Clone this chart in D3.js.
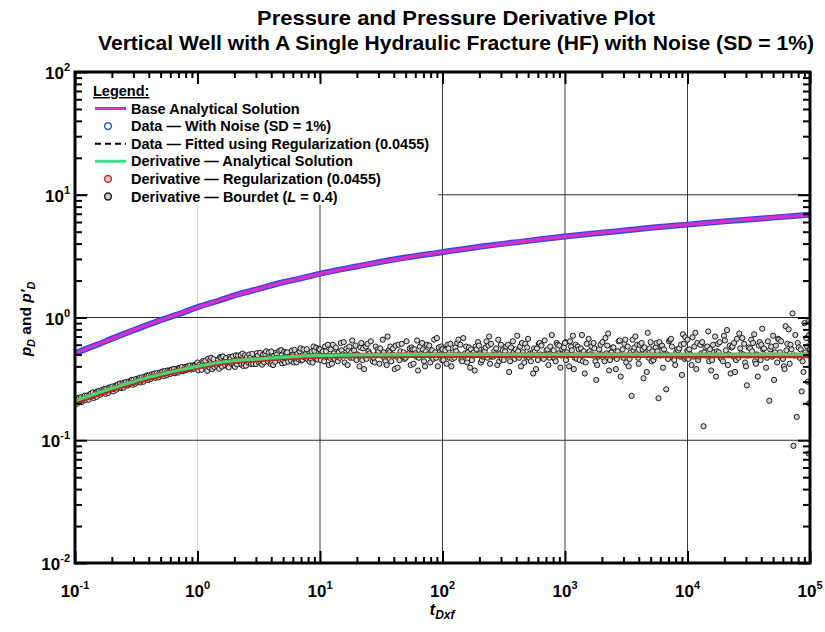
<!DOCTYPE html>
<html><head><meta charset="utf-8">
<script src="https://cdn.jsdelivr.net/npm/d3@7"></script>
<style>
body{margin:0;background:#fff}
text{font-family:"Liberation Sans",Arial,sans-serif;font-weight:bold;fill:#000}
</style>
</head><body><svg id="c" width="825" height="632"></svg>
<script>
// ---------- data ----------
const pressureT = [0.1,0.15,0.2,0.3,0.5,0.7,1,1.5,2,3,5,7,10,20,50,100,200,500,1e3,2e3,5e3,1e4,2e4,5e4,1e5];
const pressureBase = [.51,.60,.67,.79,.95,1.07,1.21,1.38,1.51,1.69,1.93,2.09,2.27,2.61,3.07,3.41,3.76,4.22,4.56,4.91,5.37,5.72,6.06,6.52,6.86];
const pressureNoisy = [.512,.598,.673,.787,.953,1.065,1.214,1.376,1.515,1.684,1.937,2.085,2.276,2.603,3.078,3.405,3.768,4.21,4.57,4.90,5.38,5.71,6.07,6.51,6.87];
const pressureFit = [.51,.60,.67,.79,.95,1.07,1.21,1.38,1.51,1.69,1.93,2.09,2.27,2.61,3.07,3.41,3.76,4.22,4.56,4.91,5.37,5.72,6.06,6.52,6.86];

const derivT = [0.1,0.15,0.2,0.3,0.5,0.7,1,1.5,2,3,5,7,10,20,50,100,1e3,1e4,1e5];
const derivAnalytical = [.21,.24,.265,.30,.345,.372,.40,.43,.445,.458,.476,.485,.49,.496,.499,.5,.5,.5,.5];
const derivRegularization = [.205,.236,.26,.295,.34,.368,.396,.425,.44,.453,.47,.48,.485,.49,.492,.493,.492,.491,.49];

const bourdetMantissa = [1.0,1.08,1.16,1.25,1.35,1.45,1.56,1.68,1.8,1.95,2.1,2.25,2.4,2.6,2.8,3.0,3.25,3.5,3.75,4.0,4.3,4.65,5.0,5.4,5.8,6.2,6.7,7.2,7.8,8.4,9.0,9.6];
const bourdetDecades = [-1,0,1,2,3,4];
const bourdetOffsets = [1,1.018,1.036,1.054];
const bourdetA = [
 [.205,.222,.214,.231,.240,.229,.251,.243,.262,.270,.262,.285,.276,.297,.288,.311,.300,.325,.314,.337,.326,.352,.338,.365,.350,.377,.362,.389,.373,.401,.384,.412],
 [.430,.375,.445,.392,.458,.401,.470,.408,.392,.482,.415,.495,.420,.430,.505,.418,.515,.432,.440,.528,.436,.535,.448,.520,.445,.545,.458,.452,.552,.462,.535,.455],
 [.55,.44,.60,.42,.57,.47,.63,.41,.52,.59,.40,.56,.46,.64,.43,.53,.66,.41,.58,.49,.39,.61,.47,.56,.42,.65,.51,.40,.59,.46,.68,.50],
 [.55,.42,.61,.47,.66,.44,.58,.39,.52,.63,.45,.57,.70,.48,.41,.60,.53,.36,.64,.49,.58,.43,.67,.51,.38,.62,.46,.55,.72,.44,.59,.50],
 [.62,.40,.71,.46,.56,.35,.67,.49,.31,.60,.44,.74,.52,.38,.65,.47,.58,.23,.70,.42,.55,.36,.63,.48,.22,.59,.26,.66,.45,.54,.34,.69],
 [.66,.41,.75,.48,.13,.58,.37,.70,.52,.44,.79,.35,.62,.47,.68,.40,.56,.73,.33,.60,.49,.21,.71,.43,.64,.38,.80,1.08,.155,.55,.90,.30]
];
const bourdetB = [
 [.216,.208,.226,.220,.225,.245,.238,.258,.249,.256,.278,.269,.290,.281,.304,.295,.318,.308,.331,.320,.344,.333,.357,.345,.370,.356,.383,.368,.396,.380,.406,.390],
 [.372,.440,.385,.452,.395,.455,.398,.468,.478,.404,.489,.412,.492,.500,.419,.512,.428,.506,.520,.433,.515,.446,.525,.437,.538,.450,.530,.548,.455,.527,.462,.556],
 [.45,.58,.41,.60,.48,.62,.43,.54,.65,.45,.57,.38,.61,.49,.58,.42,.52,.70,.44,.38,.60,.48,.64,.41,.55,.37,.62,.53,.43,.66,.40,.58],
 [.45,.60,.40,.57,.50,.68,.43,.55,.37,.59,.48,.64,.42,.53,.66,.46,.58,.44,.52,.71,.40,.61,.47,.35,.56,.50,.65,.41,.53,.62,.39,.57],
 [.45,.64,.38,.58,.72,.43,.53,.62,.41,.50,.68,.37,.57,.46,.33,.61,.40,.66,.51,.60,.32,.75,.44,.57,.63,.39,.50,.67,.41,.56,.73,.47],
 [.46,.69,.38,.60,.52,.77,.45,.33,.63,.71,.41,.57,.36,.74,.50,.28,.66,.44,.59,.81,.39,.55,.31,.67,.47,.85,.42,.09,.62,.25,.52,.078]
];
const bourdetC = [
 [.198,.224,.231,.214,.246,.226,.235,.262,.243,.274,.258,.290,.268,.279,.310,.289,.322,.300,.337,.316,.350,.325,.364,.338,.347,.381,.356,.395,.372,.407,.381,.418],
 [.412,.428,.368,.470,.420,.382,.482,.435,.465,.396,.442,.508,.405,.470,.452,.488,.413,.530,.465,.410,.500,.542,.428,.478,.492,.431,.560,.474,.486,.430,.568,.495],
 [.50,.53,.47,.51,.44,.54,.49,.58,.47,.50,.62,.48,.53,.44,.50,.56,.46,.54,.50,.59,.45,.52,.49,.57,.51,.47,.55,.60,.48,.52,.57,.45],
 [.50,.56,.46,.53,.60,.48,.52,.45,.58,.51,.55,.47,.61,.50,.44,.54,.49,.57,.46,.53,.62,.48,.51,.56,.45,.59,.50,.47,.54,.60,.49,.52],
 [.52,.58,.47,.55,.44,.61,.50,.56,.48,.63,.51,.45,.57,.53,.49,.66,.46,.54,.60,.50,.57,.47,.53,.62,.49,.55,.46,.58,.52,.48,.61,.54],
 [.55,.48,.62,.51,.57,.44,.60,.53,.47,.65,.50,.58,.45,.56,.61,.49,.53,.42,.63,.55,.47,.58,.52,.66,.46,.54,.60,.49,.57,.44,.68,.55]
];
const bourdetD = [
 [.220,.205,.213,.236,.221,.250,.256,.239,.268,.250,.283,.266,.295,.301,.283,.316,.296,.330,.309,.344,.322,.355,.333,.370,.375,.352,.388,.365,.399,.377,.412,.386],
 [.395,.408,.462,.380,.410,.476,.436,.398,.420,.492,.450,.402,.476,.418,.458,.432,.500,.454,.418,.488,.470,.424,.515,.470,.430,.505,.446,.500,.438,.580,.458,.510],
 [.53,.48,.55,.46,.52,.50,.56,.47,.54,.49,.45,.58,.51,.47,.55,.49,.44,.52,.56,.48,.53,.46,.51,.55,.48,.58,.44,.50,.54,.47,.52,.56],
 [.54,.47,.52,.62,.45,.51,.57,.49,.55,.43,.53,.59,.48,.56,.51,.45,.60,.50,.55,.47,.52,.57,.44,.53,.61,.48,.54,.58,.46,.51,.55,.63],
 [.49,.54,.60,.45,.53,.51,.58,.44,.55,.47,.59,.52,.48,.64,.55,.43,.52,.57,.47,.62,.51,.56,.45,.53,.58,.50,.64,.48,.55,.60,.46,.53],
 [.50,.58,.45,.63,.49,.55,.52,.61,.46,.54,.59,.48,.67,.51,.43,.57,.62,.50,.45,.56,.64,.48,.59,.52,.40,.61,.55,.72,.47,.36,.58,.65]
];
const bourdetEndT = 1e5;
const bourdetEnd = [.72,.20,.95];

const xTickExps = [-1,0,1,2,3,4,5];
const yTickExps = [-2,-1,0,1,2];
const titleLines = ["Pressure and Pressure Derivative Plot","Vertical Well with A Single Hydraulic Fracture (HF) with Noise (SD = 1%)"];
const legendItems = [
 {label:"Base Analytical Solution", kind:"line", color:"#d930b8"},
 {label:"Data \u2014 With Noise (SD = 1%)", kind:"circle", color:"#2f55d4", fill:"#fff"},
 {label:"Data \u2014 Fitted using Regularization (0.0455)", kind:"dash", color:"#000"},
 {label:"Derivative \u2014 Analytical Solution", kind:"line", color:"#3ddc8c"},
 {label:"Derivative \u2014 Regularization (0.0455)", kind:"circle", color:"#c8302a", fill:"#ccc"},
 {label:"Derivative \u2014 Bourdet (", italic:"L", tail:" = 0.4)", kind:"circle", color:"#222", fill:"#ccc"}
];

// ---------- chart ----------
const svg = d3.select("#c");
const L=75, R=810, T=72, B=563;
const x = d3.scaleLog().domain([0.1,1e5]).range([L,R]);
const y = d3.scaleLog().domain([0.01,100]).range([B,T]);

svg.append("defs").append("clipPath").attr("id","clip")
  .append("rect").attr("x",L).attr("y",T).attr("width",R-L).attr("height",B-T);

// grid
const grid = svg.append("g");
xTickExps.slice(1,-1).forEach(e=>{
  grid.append("line").attr("x1",x(10**e)).attr("x2",x(10**e)).attr("y1",T).attr("y2",B)
    .attr("stroke", e===0 ? "#d4d4d4" : "#3a3a3a").attr("stroke-width",1);
});
yTickExps.slice(1,-1).forEach(e=>{
  grid.append("line").attr("y1",y(10**e)).attr("y2",y(10**e)).attr("x1",L).attr("x2",R)
    .attr("stroke","#2a2a2a").attr("stroke-width",1);
});

// legend background
svg.append("rect").attr("x",88).attr("y",78).attr("width",350).attr("height",127).attr("fill","#fff");

const plot = svg.append("g").attr("clip-path","url(#clip)");
const line = d3.line().curve(d3.curveMonotoneX);

// Bourdet derivative points
const rows = [bourdetA,bourdetB,bourdetC,bourdetD];
const bourdet = [];
bourdetDecades.forEach((d,i)=>{
  bourdetMantissa.forEach((m,j)=>{
    rows.forEach((r,k)=>bourdet.push([m*bourdetOffsets[k]*10**d, r[i][j]]));
  });
});
bourdetEnd.forEach(v=>bourdet.push([bourdetEndT*0.985, v]));
plot.append("g").selectAll("circle").data(bourdet).join("circle")
  .attr("cx",d=>x(d[0])).attr("cy",d=>y(d[1])).attr("r",2.6)
  .attr("fill","#d4d4d4").attr("stroke","#1a1a1a").attr("stroke-width",1);

// regularization derivative (red band) and analytical derivative (green)
plot.append("path").attr("d",line(derivT.map((t,i)=>[x(t),y(derivRegularization[i])])))
  .attr("fill","none").attr("stroke","#b82a22").attr("stroke-width",5.5);
plot.append("path").attr("d",line(derivT.map((t,i)=>[x(t),y(derivAnalytical[i])])))
  .attr("fill","none").attr("stroke","#48d470").attr("stroke-width",3.2);

// pressure: noisy data (blue band), fitted dashed, base analytical
plot.append("path").attr("d",line(pressureT.map((t,i)=>[x(t),y(pressureNoisy[i])])))
  .attr("fill","none").attr("stroke","#3048e0").attr("stroke-width",6);
plot.append("path").attr("d",line(pressureT.map((t,i)=>[x(t),y(pressureFit[i])])))
  .attr("fill","none").attr("stroke","#000").attr("stroke-width",1.5).attr("stroke-dasharray","5,3");
plot.append("path").attr("d",line(pressureT.map((t,i)=>[x(t),y(pressureBase[i])])))
  .attr("fill","none").attr("stroke","#d630c8").attr("stroke-width",3.4);

// ticks (inner, all four sides)
const xMinor=[], yMinor=[];
xTickExps.slice(0,-1).forEach(e=>{for(let m=2;m<=9;m++) xMinor.push(m*10**e);});
yTickExps.slice(0,-1).forEach(e=>{for(let m=2;m<=9;m++) yMinor.push(m*10**e);});
const xMajor = xTickExps.map(e=>10**e), yMajor = yTickExps.map(e=>10**e);
function ticks(axisFn, scale, vals, len, tr){
  const g = svg.append("g").attr("transform",tr)
    .call(axisFn(scale).tickValues(vals).tickSize(-len).tickFormat(""));
  g.select(".domain").remove();
  g.selectAll("line").attr("stroke","#000").attr("stroke-width",2);
}
ticks(d3.axisBottom,x,xMinor,6,`translate(0,${B})`);
ticks(d3.axisBottom,x,xMajor,12,`translate(0,${B})`);
ticks(d3.axisTop,x,xMinor,6,`translate(0,${T})`);
ticks(d3.axisTop,x,xMajor,12,`translate(0,${T})`);
ticks(d3.axisLeft,y,yMinor,7,`translate(${L},0)`);
ticks(d3.axisLeft,y,yMajor,12,`translate(${L},0)`);
ticks(d3.axisRight,y,yMinor,7,`translate(${R},0)`);
ticks(d3.axisRight,y,yMajor,12,`translate(${R},0)`);

// frame
svg.append("rect").attr("x",L).attr("y",T).attr("width",R-L).attr("height",B-T)
  .attr("fill","none").attr("stroke","#000").attr("stroke-width",3);

// tick labels
function pow10(g, px, py, e, anchor){
  const t = g.append("text").attr("x",px).attr("y",py).attr("text-anchor",anchor).style("font-size","17px");
  t.append("tspan").text("10");
  t.append("tspan").attr("dy",-8).style("font-size","11px").text(e);
}
const lab = svg.append("g");
xTickExps.forEach(e=>pow10(lab, x(10**e), 597, e, "middle"));
yTickExps.forEach(e=>pow10(lab, 70, y(10**e)+7, e, "end"));

// titles (condensed face)
const titleWidths = [398, 716];
titleLines.forEach((s,i)=>{
  svg.append("text").attr("x",456).attr("y",25+i*25).attr("text-anchor","middle")
    .attr("textLength",titleWidths[i]).attr("lengthAdjust","spacingAndGlyphs")
    .style("font-size","21px").text(s);
});

// axis titles
const xt = svg.append("text").attr("x",442).attr("y",615).attr("text-anchor","middle").style("font-size","17px");
xt.append("tspan").style("font-style","italic").text("t");
xt.append("tspan").attr("dy",4).style("font-style","italic").style("font-size","12px").text("Dxf");

const yt = svg.append("text").attr("transform","translate(31,319) rotate(-90)").attr("text-anchor","middle").style("font-size","15.5px");
yt.append("tspan").style("font-style","italic").text("p");
yt.append("tspan").attr("dy",4).style("font-style","italic").style("font-size","11px").text("D");
yt.append("tspan").attr("dy",-4).text(" and ");
yt.append("tspan").style("font-style","italic").text("p\u2032");
yt.append("tspan").attr("dy",4).style("font-style","italic").style("font-size","11px").text("D");

// legend
const lg = svg.append("g");
lg.append("text").attr("x",93).attr("y",96).style("font-size","14.5px")
  .attr("text-decoration","underline").text("Legend:");
legendItems.forEach((it,i)=>{
  const cy = 108.5 + i*17.6;
  if(it.kind==="line"){
    lg.append("line").attr("x1",95).attr("x2",126).attr("y1",cy).attr("y2",cy)
      .attr("stroke",it.color).attr("stroke-width",3);
  } else if(it.kind==="dash"){
    lg.append("line").attr("x1",95).attr("x2",126).attr("y1",cy).attr("y2",cy)
      .attr("stroke",it.color).attr("stroke-width",2).attr("stroke-dasharray","6,4");
  } else {
    lg.append("circle").attr("cx",108).attr("cy",cy).attr("r",3.4)
      .attr("fill",it.fill).attr("stroke",it.color).attr("stroke-width",1.5);
  }
  const t = lg.append("text").attr("x",131).attr("y",cy+5).style("font-size","14.5px");
  t.append("tspan").text(it.label);
  if(it.italic){
    t.append("tspan").style("font-style","italic").text(it.italic);
    t.append("tspan").text(it.tail);
  }
});
</script>
</body></html>
